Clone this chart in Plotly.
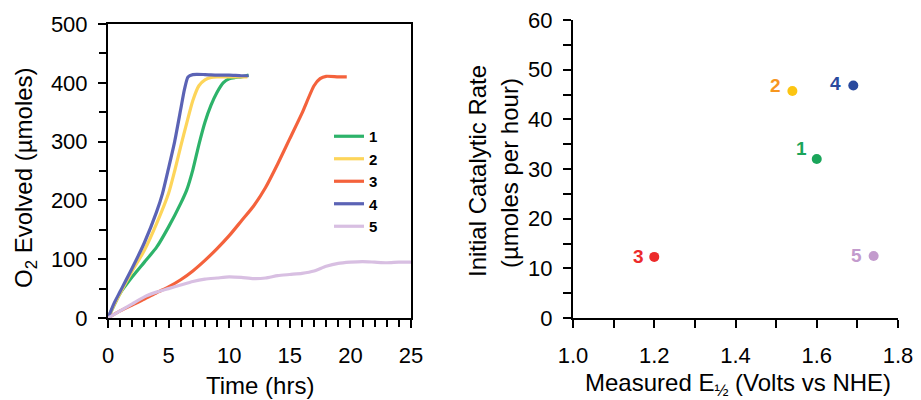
import plotly.graph_objects as go

# ---------------- data: left panel (O2 evolved vs time) ----------------
t1 = [0, 1, 2, 3, 4, 5, 6, 6.5, 7, 7.5, 8, 8.5, 9, 9.5, 10, 10.5, 11, 11.6]
v1 = [0, 42, 70, 95, 120, 155, 195, 218, 252, 295, 333, 362, 384, 400, 407, 409, 410, 413]

t2 = [0, 0.5, 1, 2, 3, 4, 5, 5.5, 6, 6.5, 7, 7.5, 8, 8.5, 9, 10, 11, 11.5]
v2 = [0, 22, 42, 80, 115, 160, 212, 250, 292, 332, 370, 395, 405, 409, 410, 410, 410, 410]

t3 = [0, 1, 2, 3, 4, 5, 6, 7, 8, 9, 10, 11, 12, 13, 14, 15, 16, 17, 17.5, 18, 19, 19.7]
v3 = [0, 12, 22, 32, 43, 53, 65, 80, 98, 118, 140, 165, 190, 222, 262, 305, 348, 395, 407, 411, 410, 410]

t4 = [0, 0.5, 1, 2, 3, 4, 4.5, 5, 5.5, 6, 6.3, 6.6, 7, 8, 9, 10, 11, 11.6]
v4 = [0, 25, 45, 85, 128, 180, 212, 255, 300, 355, 388, 410, 414, 414, 413, 413, 412, 412]

t5 = [0, 1, 2, 3, 4, 5, 6, 7, 8, 9, 10, 11, 12, 13, 14, 15, 16, 17, 18, 19, 20, 21, 22, 23, 24, 25]
v5 = [0, 12, 24, 36, 44, 50, 56, 62, 66, 68, 70, 69, 67, 68, 72, 74, 76, 80, 88, 93, 95, 96, 95, 94, 95, 95]

series_names = ["1", "2", "3", "4", "5"]
line_colors = ["#2db36a", "#fdd55a", "#f4623c", "#5b63b5", "#d8bfe2"]

# ---------------- data: right panel (rate vs E1/2) ----------------
cat_labels = ["1", "2", "3", "4", "5"]
e_half = [1.60, 1.54, 1.20, 1.69, 1.74]
init_rate = [32.0, 45.7, 12.3, 46.8, 12.5]

# styling for the right panel
point_colors = ["#1aa55a", "#fcc512", "#ec2a2a", "#2a4a9e", "#c39bcd"]
label_colors = ["#1aa55a", "#f7961e", "#ec2a2a", "#2a4a9e", "#c39bcd"]
label_dx = [-15, -17, -16, -18, -17]
label_dy = [11, 6, 0, 2, 0]

FONT = "Liberation Sans, Arial, sans-serif"
OFF = 8                      # page body margin
W, H = 921 - OFF, 400 - OFF  # figure size so the page fills the window
TICK_SIZE = 22
TITLE_SIZE = 24

fig = go.Figure()

for t, v, n, c in zip([t1, t2, t3, t4, t5], [v1, v2, v3, v4, v5], series_names, line_colors):
    fig.add_trace(go.Scatter(x=t, y=v, mode="lines", name=n,
                             line=dict(color=c, width=3.2, shape="spline", smoothing=0.6),
                             xaxis="x", yaxis="y", showlegend=True))

fig.add_trace(go.Scatter(x=e_half, y=init_rate, mode="markers",
                         marker=dict(color=point_colors, size=10),
                         xaxis="x2", yaxis="y2", showlegend=False))


def px_x(p):
    return (p - OFF) / W


def px_y(p):
    return 1 - (p - OFF) / H


common = dict(showgrid=False, zeroline=False, showline=True, linecolor="black", linewidth=2,
              ticks="outside", ticklen=8, tickwidth=1.6, tickcolor="black", automargin=False,
              ticklabeloverflow="allow",
              tickfont=dict(size=TICK_SIZE, family=FONT, color="black"))

fig.update_layout(
    width=W, height=H,
    margin=dict(l=0, r=0, t=0, b=0, autoexpand=False),
    paper_bgcolor="white", plot_bgcolor="white",
    font=dict(family=FONT, color="black"),
    xaxis=dict(domain=[px_x(108), px_x(411)], range=[0, 25], dtick=5, mirror=True,
               minor=dict(dtick=1, ticks="outside", ticklen=7, tickwidth=1.6, tickcolor="black"),
               ticklabelstandoff=9, anchor="y", **common),
    yaxis=dict(domain=[px_y(318), px_y(24)], range=[0, 500], dtick=100, mirror=True,
               minor=dict(dtick=50, ticks="outside", ticklen=7, tickwidth=1.6, tickcolor="black"),
               ticklabelstandoff=6, anchor="x", **common),
    xaxis2=dict(domain=[px_x(573), px_x(898)], range=[1.0, 1.8], dtick=0.2, tickformat=".1f",
                minor=dict(dtick=0.1, ticks="outside", ticklen=8, tickwidth=1.6, tickcolor="black"),
                ticklabelstandoff=9, anchor="y2", **common),
    yaxis2=dict(domain=[px_y(318), px_y(20)], range=[0, 60], dtick=10,
                minor=dict(dtick=5, ticks="outside", ticklen=8, tickwidth=1.6, tickcolor="black"),
                ticklabelstandoff=6, anchor="x2", **common),
    legend=dict(x=px_x(329), y=px_y(120), xanchor="left", yanchor="top",
                bgcolor="rgba(0,0,0,0)", font=dict(size=15, family=FONT, weight="bold"),
                tracegroupgap=0, itemwidth=30),
)

annos = [
    dict(text="Time (hrs)", x=px_x(260), y=px_y(385), xref="paper", yref="paper",
         showarrow=False, font=dict(size=TITLE_SIZE, family=FONT), xanchor="center", yanchor="middle"),
    dict(text="O<sub>2</sub> Evolved (µmoles)", x=px_x(25), y=px_y(178), xref="paper", yref="paper",
         showarrow=False, textangle=-90, font=dict(size=TITLE_SIZE, family=FONT),
         xanchor="center", yanchor="middle"),
    dict(text="Measured E<sub>½</sub> (Volts vs NHE)", x=px_x(738), y=px_y(384), xref="paper", yref="paper",
         showarrow=False, font=dict(size=TITLE_SIZE, family=FONT), xanchor="center", yanchor="middle"),
    dict(text="Initial Catalytic Rate", x=px_x(477), y=px_y(171), xref="paper", yref="paper",
         showarrow=False, textangle=-90, font=dict(size=TITLE_SIZE, family=FONT),
         xanchor="center", yanchor="middle"),
    dict(text="(µmoles per hour)", x=px_x(509), y=px_y(173), xref="paper", yref="paper",
         showarrow=False, textangle=-90, font=dict(size=TITLE_SIZE, family=FONT),
         xanchor="center", yanchor="middle"),
]

# point labels, anchored to the data through the second axis pair
for lab, xv, yv, col, dx, dy in zip(cat_labels, e_half, init_rate, label_colors, label_dx, label_dy):
    annos.append(dict(text="<b>%s</b>" % lab, x=xv, y=yv, xref="x2", yref="y2",
                      showarrow=False, xanchor="center", yanchor="middle",
                      xshift=dx, yshift=dy, font=dict(size=19, family=FONT, color=col)))

fig.update_layout(annotations=annos)

fig.write_html("out.html")
